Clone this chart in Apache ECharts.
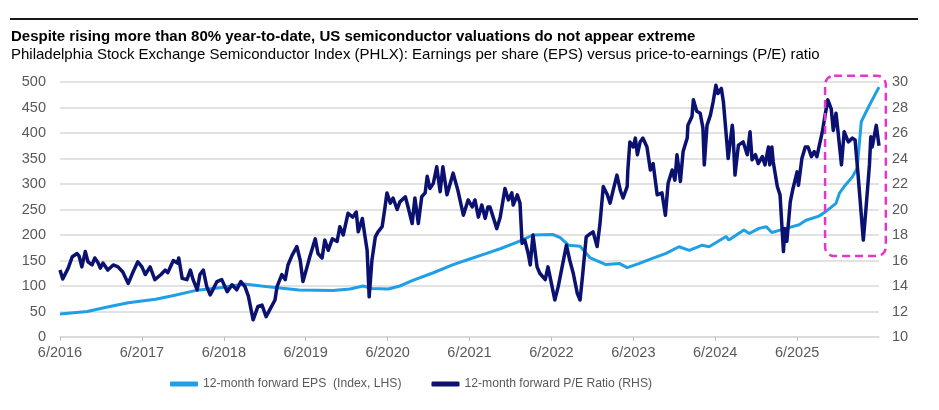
<!DOCTYPE html>
<html>
<head>
<meta charset="utf-8">
<title>PHLX EPS vs P/E</title>
<script src="https://cdn.jsdelivr.net/npm/echarts@6/dist/echarts.min.js"></script>
<style>
	html, body { margin: 0; padding: 0; background: #fff; }
	#main { width: 939px; height: 410px; }
</style>
</head>
<body>
<div id="main"></div>
<script>
//x轴: months since 6/2016
var xTickLabels = ['6/2016', '6/2017', '6/2018', '6/2019', '6/2020', '6/2021', '6/2022', '6/2023', '6/2024', '6/2025'];

//12-month forward EPS (index, LHS)
var epsMonths = [0, 4, 6.6, 10, 14, 16.5, 19.8, 23.7, 27, 29.5,
	31.5, 35, 40, 42.5, 44.4, 45.7, 48.1, 49.8, 51.7, 54.7,
	57.6, 59.6, 62.5, 64.5, 67, 69.3, 72.2, 73.3, 74.5, 76.2,
	77.7, 80, 82, 83.1, 84.8, 86.8, 88.8, 90.7, 92.2, 94.1,
	95.1, 97.6, 98, 100.2, 101, 102.4, 103.5, 104.3, 106.4, 108.3,
	109.3, 111.2, 112, 113.7, 114.2, 114.9, 116.1, 116.8, 117.4, 118.5,
	120];
var epsValues = [45, 50, 58, 67, 74, 81, 91, 97, 104, 100,
	97, 92, 91, 94, 100, 95, 94, 100, 111, 126,
	142, 151, 164, 173, 186, 200, 201, 195, 180, 178,
	155, 142, 144, 136, 144, 154, 164, 177, 170, 180,
	177, 197, 190, 210, 203, 213, 216, 205, 213, 220,
	229, 237, 244, 262, 282, 295, 314, 331, 422, 452,
	490];

//12-month forward P/E (RHS)
var peMonths = [0, 0.4, 1.2, 1.8, 2.5, 2.8, 3.2, 3.7, 4.1, 4.7,
	5.1, 5.6, 5.9, 6.3, 7.0, 7.8, 8.5, 9.2, 10.0, 10.7,
	11.4, 12.0, 12.5, 13.2, 13.9, 14.8, 15.4, 15.8, 16.6, 17.2,
	17.4, 17.9, 18.6, 19.1, 19.5, 20.1, 20.5, 21.0, 21.5, 22.0,
	22.4, 23.0, 23.7, 24.5, 25.2, 25.9, 26.5, 27.1, 27.6, 28.3,
	29.0, 29.6, 30.2, 30.8, 31.5, 31.8, 32.5, 33.0, 33.4, 34.0,
	34.7, 35.2, 35.6, 36.2, 36.6, 37.4, 37.8, 38.4, 38.8, 39.3,
	39.9, 40.6, 41.0, 41.5, 42.2, 42.9, 43.4, 43.7, 44.3, 44.7,
	45.0, 45.3, 45.7, 46.2, 46.6, 47.2, 47.6, 47.9, 48.4, 48.8,
	49.4, 49.8, 50.6, 51.0, 51.6, 52.0, 52.5, 53.0, 53.5, 53.8,
	54.2, 54.7, 55.2, 55.7, 56.1, 56.7, 57.6, 58.3, 59.1, 59.8,
	60.4, 60.8, 61.3, 61.8, 62.3, 62.7, 63.0, 64.0, 64.5, 65.2,
	65.7, 66.2, 66.4, 67.0, 67.4, 67.7, 68.1, 68.6, 68.9, 69.3,
	69.9, 70.3, 71.1, 71.5, 72.1, 72.5, 73.0, 74.2, 74.7, 75.2,
	75.8, 76.2, 76.6, 77.1, 77.7, 78.1, 78.7, 79.1, 79.6, 80.2,
	80.6, 81.0, 81.6, 82.1, 82.5, 83.1, 83.2, 83.5, 84.0, 84.3,
	84.6, 85.0, 85.4, 86.0, 86.5, 86.9, 87.5, 88.2, 88.7, 89.1,
	89.7, 90.1, 90.4, 90.9, 91.3, 91.9, 92.0, 92.6, 92.8, 93.3,
	93.8, 94.2, 94.4, 94.8, 95.3, 95.7, 96.1, 96.4, 96.9, 97.2,
	97.7, 97.9, 98.5, 98.6, 98.9, 99.4, 100.1, 100.7, 101.1, 101.4,
	101.9, 102.3, 102.9, 103.3, 103.8, 104.0, 104.3, 104.5, 105.1, 105.5,
	106.0, 106.2, 106.5, 107.0, 107.4, 108.0, 108.2, 108.7, 109.2, 109.6,
	110.1, 110.5, 110.9, 111.7, 112.1, 112.5, 113.0, 113.3, 113.7, 114.0,
	114.5, 114.9, 115.5, 116.1, 116.5, 116.9, 117.7, 118.1, 118.6, 118.8,
	119.0, 119.6, 120];
var peValues = [15.25, 14.55, 15.4, 16.3, 16.55, 16.35, 15.5, 16.7, 15.9, 15.65,
	16.2, 15.8, 15.4, 15.8, 15.25, 15.65, 15.5, 15.1, 14.2, 15.1,
	15.9, 15.5, 14.9, 15.5, 14.5, 14.9, 15.25, 15.05, 16.0, 15.8,
	16.2, 14.6, 14.5, 15.25, 14.5, 13.7, 14.9, 15.25, 13.95, 13.3,
	13.7, 14.35, 14.5, 13.55, 14.1, 13.7, 14.35, 13.95, 13.2, 11.35,
	12.4, 12.5, 11.6, 12.2, 12.9, 13.95, 14.9, 14.5, 15.65, 16.4,
	17.1, 16.0, 14.35, 15.5, 16.3, 17.7, 16.55, 16.2, 17.6, 16.8,
	17.7, 17.5, 18.65, 18.0, 19.7, 19.4, 19.8, 18.25, 19.3, 17.85,
	16.8, 13.15, 16.0, 17.85, 18.25, 18.65, 20.1, 21.3, 20.5, 20.9,
	20.0, 20.6, 21.0, 20.2, 18.9, 20.9, 18.9, 21.0, 21.3, 22.6,
	21.65, 22.05, 23.35, 21.4, 23.35, 21.15, 22.85, 21.5, 19.55, 20.75,
	20.2, 20.75, 19.4, 20.35, 19.3, 20.2, 20.2, 18.5, 19.4, 21.65,
	20.75, 21.3, 20.35, 21.15, 20.5, 17.35, 17.6, 16.55, 15.65, 18.0,
	15.5, 15.0, 14.5, 15.5, 13.95, 12.9, 13.95, 17.2, 16.0, 15.0,
	13.4, 12.9, 15.0, 17.85, 18.1, 18.25, 17.1, 18.8, 21.8, 21.15,
	20.5, 21.4, 22.7, 21.5, 20.9, 21.8, 23.1, 25.3, 24.9, 25.6,
	24.3, 25.3, 25.6, 24.9, 23.1, 23.6, 21.15, 21.3, 19.55, 22.05,
	23.1, 22.3, 24.3, 22.2, 24.55, 25.6, 26.6, 27.3, 28.6, 27.7,
	27.55, 26.4, 23.5, 26.6, 27.4, 28.45, 29.75, 29.1, 29.5, 28.45,
	25.3, 24.0, 26.6, 26.1, 22.7, 25.05, 25.3, 24.3, 26.1, 23.9,
	24.3, 23.6, 24.15, 23.5, 24.9, 23.5, 24.9, 23.75, 21.8, 21.15,
	16.7, 18.5, 17.5, 20.6, 21.65, 22.95, 21.9, 24.0, 24.9, 24.9,
	24.15, 24.55, 24.15, 26.1, 27.4, 28.6, 27.9, 26.2, 27.55, 26.1,
	23.5, 26.1, 25.3, 25.6, 25.45, 22.95, 17.6, 20.1, 23.5, 25.7,
	24.9, 26.6, 25.0];

//dashed highlight box (months / P/E units)
var boxMonths = [112.1, 121.0];
var boxPE = [16.35, 30.5];

function zip(xs, ys) {
	var out = [];
	for(var i = 0; i < xs.length; i++) {
		out.push([xs[i], ys[i]]);
	}
	return out;
}

var tickValues = [];
for(var i = 0; i < xTickLabels.length; i++) {
	tickValues.push(i * 12);
}

var font = "'Liberation Sans', Arial, sans-serif";
var grey = '#595959';

var myChart = echarts.init(document.getElementById('main'));
var option = {
	animation: false,
	textStyle: { fontFamily: font },
	title: {
		left: 11,
		top: 28,
		padding: 0,
		itemGap: 0,
		text: 'Despite rising more than 80% year-to-date, US semiconductor valuations do not appear extreme',
		subtext: 'Philadelphia Stock Exchange Semiconductor Index (PHLX): Earnings per share (EPS) versus price-to-earnings (P/E) ratio',
		textStyle: { fontFamily: font, fontSize: 15, fontWeight: 'bold', color: '#000', lineHeight: 18 },
		subtextStyle: { fontFamily: font, fontSize: 15, color: '#000', lineHeight: 18 }
	},
	legend: {
		left: 170,
		top: 378,
		padding: 0,
		itemGap: 30,
		itemWidth: 28,
		itemHeight: 5,
		icon: 'roundRect',
		textStyle: { fontFamily: font, fontSize: 12.2, color: grey },
		data: ['12-month forward EPS  (Index, LHS)', '12-month forward P/E Ratio (RHS)']
	},
	grid: {
		left: 60,
		right: 60,
		top: 82,
		bottom: 73
	},
	xAxis: {
		type: 'value',
		min: 0,
		max: 120,
		splitLine: { show: false },
		axisLine: { lineStyle: { color: '#d9d9d9', width: 1.5 } },
		axisTick: { show: true, customValues: tickValues, length: 4, lineStyle: { color: '#bfbfbf' } },
		axisLabel: {
			customValues: tickValues,
			color: grey,
			fontSize: 14.5,
			margin: 8,
			formatter: function(value) {
				return xTickLabels[Math.round(value / 12)] || '';
			}
		}
	},
	yAxis: [{
		type: 'value',
		min: 0,
		max: 500,
		interval: 50,
		axisLine: { show: false },
		axisTick: { show: false },
		splitLine: { lineStyle: { color: '#d9d9d9', width: 1.5 } },
		axisLabel: { color: grey, fontSize: 14.5, margin: 14 }
	}, {
		type: 'value',
		min: 10,
		max: 30,
		interval: 2,
		axisLine: { show: false },
		axisTick: { show: false },
		splitLine: { show: false },
		axisLabel: { color: grey, fontSize: 14.5, margin: 13 }
	}],
	series: [{
		name: '12-month forward EPS  (Index, LHS)',
		type: 'line',
		yAxisIndex: 0,
		showSymbol: false,
		color: '#1f9fe6',
		lineStyle: { width: 3, color: '#1f9fe6' },
		data: zip(epsMonths, epsValues),
		z: 2
	}, {
		name: '12-month forward P/E Ratio (RHS)',
		type: 'line',
		yAxisIndex: 1,
		showSymbol: false,
		color: '#0b1170',
		lineStyle: { width: 3.5, color: '#0b1170', join: 'round' },
		data: zip(peMonths, peValues),
		z: 3
	}]
};
myChart.setOption(option);

//top rule + dashed box (box placed through the axes)
var p1 = myChart.convertToPixel({ xAxisIndex: 0, yAxisIndex: 1 }, [boxMonths[0], boxPE[1]]);
var p2 = myChart.convertToPixel({ xAxisIndex: 0, yAxisIndex: 1 }, [boxMonths[1], boxPE[0]]);
myChart.setOption({
	graphic: [{
		type: 'line',
		shape: { x1: 10, y1: 19, x2: 918, y2: 19 },
		style: { stroke: '#1a1a1a', lineWidth: 2 }
	}, {
		type: 'rect',
		shape: { x: p1[0], y: p1[1], width: p2[0] - p1[0], height: p2[1] - p1[1], r: 9 },
		style: { fill: 'none', stroke: '#e236cc', lineWidth: 2.5, lineDash: [8, 5] },
		z: 10
	}]
});
</script>
</body>
</html>
